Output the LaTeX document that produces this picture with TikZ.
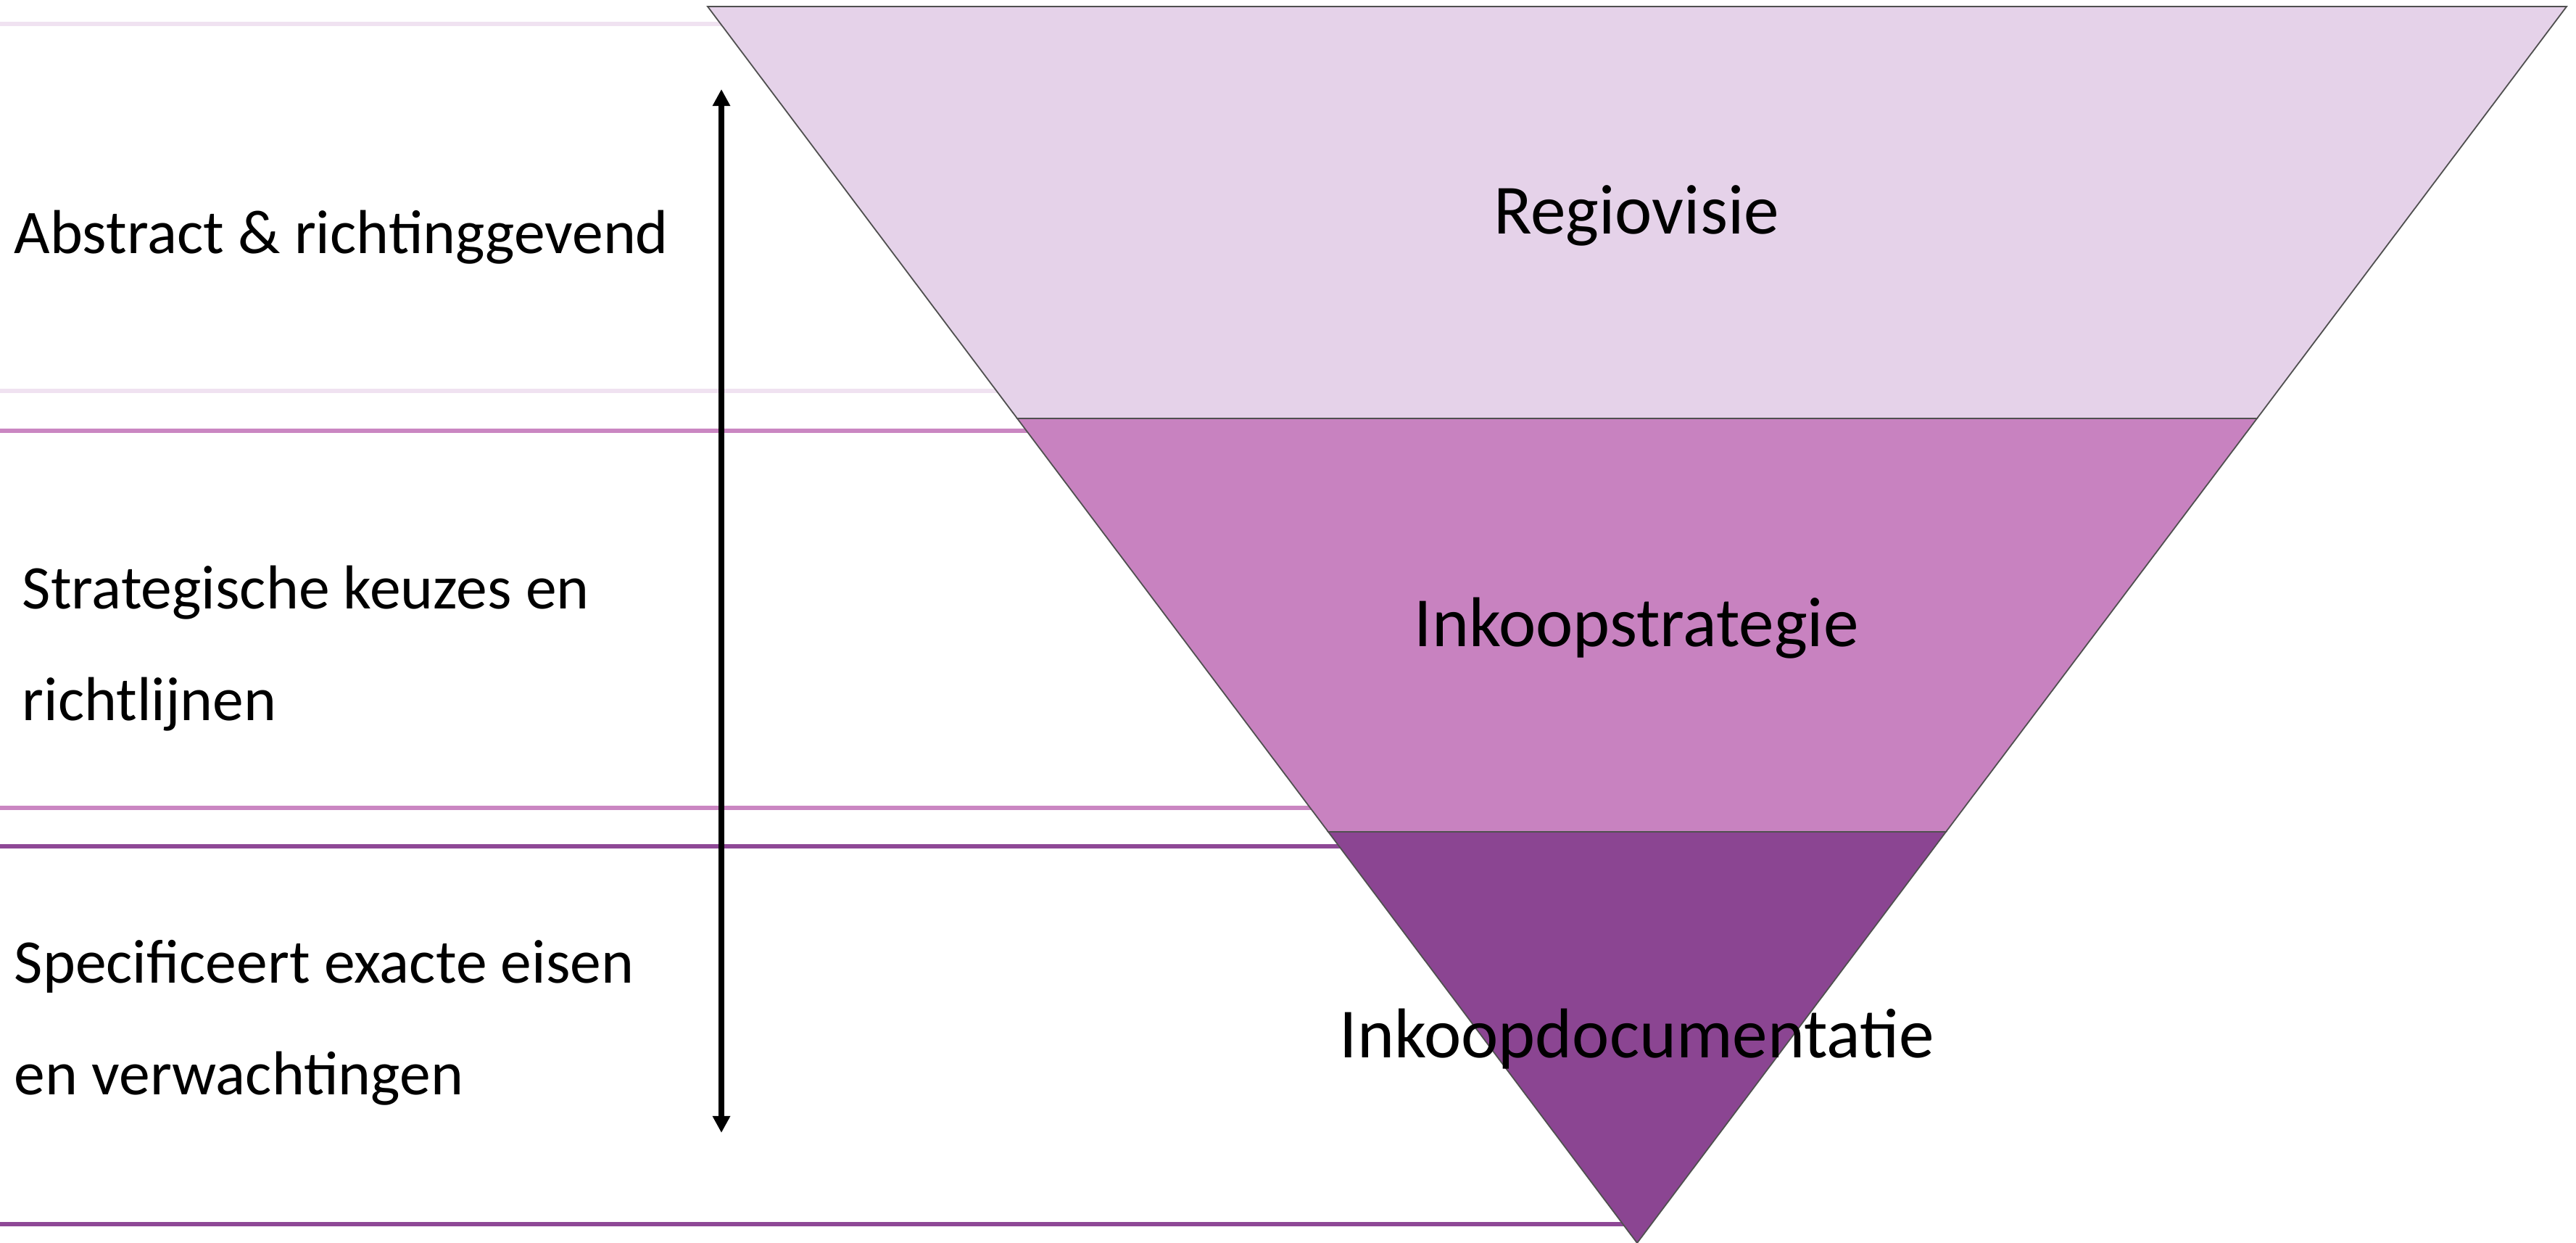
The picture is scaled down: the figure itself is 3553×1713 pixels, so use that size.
\documentclass[tikz,border=0pt]{standalone}
\usepackage{fontspec}
\setmainfont{Carlito}
\usetikzlibrary{arrows.meta}
\definecolor{lvlA}{HTML}{E5D2E9}
\definecolor{lvlB}{HTML}{C882C0}
\definecolor{lvlC}{HTML}{8B4592}
\definecolor{ruleA}{HTML}{F0E2F1}
\definecolor{ruleB}{HTML}{CA86C2}
\definecolor{ruleC}{HTML}{8E4896}
\definecolor{edgegray}{HTML}{505050}
\tikzset{
  levelrule/.style={line width=1.6pt},
  band/.style={draw=edgegray, line width=0.45pt, line join=miter},
  sidelabel/.style={anchor=base west, inner sep=0pt, align=left,
    font=\fontsize{21.4}{38.5}\selectfont},
  bandlabel/.style={anchor=base, inner sep=0pt,
    font=\fontsize{24.3}{29}\selectfont},
  scalearrow/.style={line width=2pt, {Triangle[length=5.8pt,width=5.8pt]}-{Triangle[length=5.8pt,width=5.8pt]}}
}
\begin{document}
\begin{tikzpicture}[x=0.25pt,y=-0.25pt]
\useasboundingbox (0,0) rectangle (3553,1713);
% triangle corners
\coordinate (TL) at (976,9);
\coordinate (TR) at (3540,9);
\coordinate (B1L) at (1403,577);
\coordinate (B1R) at (3113,577);
\coordinate (B2L) at (1832,1147);
\coordinate (B2R) at (2684,1147);
\coordinate (apex) at (2258,1714);
% rule ends
\coordinate (r1a) at (0,33);   \coordinate (r1b) at (1100,33);
\coordinate (r2a) at (0,539);  \coordinate (r2b) at (1450,539);
\coordinate (r3a) at (0,594);  \coordinate (r3b) at (1500,594);
\coordinate (r4a) at (0,1114); \coordinate (r4b) at (1900,1114);
\coordinate (r5a) at (0,1167); \coordinate (r5b) at (1950,1167);
\coordinate (r6a) at (0,1688); \coordinate (r6b) at (2258,1688);
\draw[levelrule, ruleA] (r1a) -- (r1b);
\draw[levelrule, ruleA] (r2a) -- (r2b);
\draw[levelrule, ruleB] (r3a) -- (r3b);
\draw[levelrule, ruleB] (r4a) -- (r4b);
\draw[levelrule, ruleC] (r5a) -- (r5b);
\draw[levelrule, ruleC] (r6a) -- (r6b);
% bands
\path[band, fill=lvlA] (TL) -- (TR) -- (B1R) -- (B1L) -- cycle;
\path[band, fill=lvlB] (B1L) -- (B1R) -- (B2R) -- (B2L) -- cycle;
\path[band, fill=lvlC] (B2L) -- (B2R) -- (apex) -- cycle;
% band labels
\node[bandlabel] (regio) at (2257,322) {Regiovisie};
\node[bandlabel] (strat) at (2257,891) {Inkoopstrategie};
\node[bandlabel] (docu) at (2258,1458) {Inkoopdocumentatie};
% side labels (base = baseline of last line)
\node[sidelabel] (abs) at (19,349) {Abstract \& richtinggevend};
\node[sidelabel] (keuz) at (30,993) {Strategische keuzes en\\richtlijnen};
\node[sidelabel] (spec) at (19,1509) {Specificeert exacte eisen\\en verwachtingen};
% scale arrow
\coordinate (arrtop) at (995,123);
\coordinate (arrbot) at (995,1562);
\draw[scalearrow] (arrtop) -- (arrbot);
\end{tikzpicture}
\end{document}
